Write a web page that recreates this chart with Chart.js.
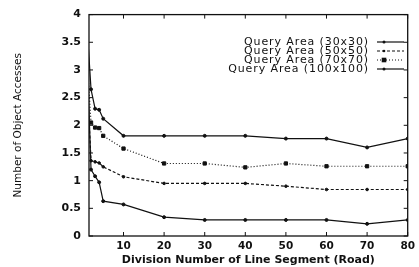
<!DOCTYPE html>
<html>
<head>
<meta charset="utf-8">
<script src="https://cdn.jsdelivr.net/npm/chart.js@4"></script>
<style>
  html, body { margin: 0; padding: 0; background: #fff; }
  #wrap { width: 419px; height: 267px; }
</style>
</head>
<body>
<div id="wrap"><canvas id="c" width="419" height="267"></canvas></div>
<script>
// division numbers (x) and object accesses for each query area
var xValues = [1, 2, 3, 4, 5, 10, 20, 30, 40, 50, 60, 70, 80];
var area30  = [3.3, 1.20, 1.08, 0.97, 0.63, 0.57, 0.34, 0.29, 0.29, 0.29, 0.29, 0.22, 0.29];
var area50  = [2.9, 1.36, 1.34, 1.32, 1.25, 1.07, 0.95, 0.95, 0.95, 0.90, 0.84, 0.84, 0.84];
var area70  = [3.2, 2.05, 1.96, 1.95, 1.81, 1.58, 1.31, 1.31, 1.24, 1.31, 1.26, 1.26, 1.26];
var area100 = [3.8, 2.65, 2.30, 2.28, 2.12, 1.81, 1.81, 1.81, 1.81, 1.76, 1.76, 1.60, 1.76];
var labels  = ["Query Area (30x30)", "Query Area (50x50)", "Query Area (70x70)", "Query Area (100x100)"];
var xTicks  = [10, 20, 30, 40, 50, 60, 70, 80];
var yTicks  = [0, 0.5, 1, 1.5, 2, 2.5, 3, 3.5, 4];

var INK = '#111';
var FONT = '"DejaVu Sans", Verdana, sans-serif';

function pts(ys) {
  return xValues.map(function (x, i) { return { x: x, y: ys[i] }; });
}

function series(label, ys, dash, pointStyle, r) {
  return {
    label: label,
    data: pts(ys),
    borderColor: INK,
    backgroundColor: INK,
    borderWidth: 1.2,
    borderDash: dash,
    pointStyle: pointStyle,
    pointRadius: r,
    pointBorderWidth: 1,
    tension: 0
  };
}

// gnuplot style frame with inward ticks, plus the key in the top right
var frame = {
  id: 'frame',
  beforeDatasetsDraw: function (chart) {
    var a = chart.chartArea, ctx = chart.ctx;
    var xs = chart.scales.x, ys = chart.scales.y;
    ctx.save();
    ctx.strokeStyle = INK;
    ctx.lineWidth = 1.3;
    ctx.strokeRect(a.left, a.top, a.right - a.left, a.bottom - a.top);
    ctx.lineWidth = 1;
    ctx.beginPath();
    ys.ticks.forEach(function (t) {
      var y = ys.getPixelForValue(t.value);
      ctx.moveTo(a.left, y); ctx.lineTo(a.left + 4, y);
      ctx.moveTo(a.right, y); ctx.lineTo(a.right - 4, y);
    });
    xs.ticks.forEach(function (t) {
      var x = xs.getPixelForValue(t.value);
      ctx.moveTo(x, a.bottom); ctx.lineTo(x, a.bottom - 4);
      ctx.moveTo(x, a.top); ctx.lineTo(x, a.top + 4);
    });
    ctx.stroke();
    ctx.restore();
  },
  afterDraw: function (chart) {
    var ctx = chart.ctx;
    ctx.save();
    ctx.font = '11px ' + FONT;
    ctx.letterSpacing = '0.9px';
    ctx.fillStyle = INK;
    ctx.textAlign = 'right';
    ctx.textBaseline = 'middle';
    chart.data.datasets.forEach(function (ds, i) {
      var y = 42 + i * 9;
      ctx.fillText(ds.label, 369, y);
      ctx.strokeStyle = INK;
      ctx.lineWidth = 1.2;
      ctx.setLineDash(ds.borderDash || []);
      ctx.beginPath();
      ctx.moveTo(377, y); ctx.lineTo(404, y);
      ctx.stroke();
      ctx.setLineDash([]);
      var r = ds.pointRadius;
      if (ds.pointStyle === 'rect') {
        ctx.fillRect(384 - r, y - r, 2 * r, 2 * r);
      } else {
        ctx.beginPath(); ctx.arc(384, y, r, 0, Math.PI * 2); ctx.fill();
      }
    });
    ctx.restore();
  }
};

new Chart(document.getElementById('c').getContext('2d'), {
  type: 'line',
  data: {
    datasets: [
      series(labels[0], area30, [], 'circle', 1.5),
      series(labels[1], area50, [3, 2], 'circle', 1.3),
      series(labels[2], area70, [1, 2], 'rect', 2.3),
      series(labels[3], area100, [], 'circle', 1.5)
    ]
  },
  options: {
    responsive: false,
    animation: false,
    layout: { padding: { left: 0, right: 6, top: 13, bottom: 0 } },
    plugins: { legend: { display: false }, tooltip: { enabled: false } },
    scales: {
      x: {
        type: 'linear',
        min: 1.5,
        max: 80,
        afterBuildTicks: function (s) { s.ticks = xTicks.map(function (v) { return { value: v }; }); },
        afterFit: function (s) { s.height = 31; },
        grid: { display: false, drawTicks: false },
        border: { display: false },
        ticks: {
          color: INK,
          padding: 4,
          maxRotation: 0,
          font: { family: FONT, size: 10.5, weight: 'bold' }
        },
        title: {
          display: true,
          text: 'Division Number of Line Segment (Road)',
          color: INK,
          padding: { top: 0, bottom: 0 },
          font: { family: FONT, size: 11, weight: 'bold' }
        }
      },
      y: {
        min: 0,
        max: 4,
        afterBuildTicks: function (s) { s.ticks = yTicks.map(function (v) { return { value: v }; }); },
        afterFit: function (s) { s.width = 89; },
        grid: { display: false, drawTicks: false },
        border: { display: false },
        ticks: {
          color: INK,
          padding: 8,
          callback: function (v) { return String(v); },
          font: { family: FONT, size: 11, weight: 'bold' }
        },
        title: {
          display: true,
          text: 'Number of Object Accesses',
          color: INK,
          padding: { top: 12, bottom: 0 },
          font: { family: FONT, size: 10.5 }
        }
      }
    }
  },
  plugins: [frame]
});
</script>
</body>
</html>
